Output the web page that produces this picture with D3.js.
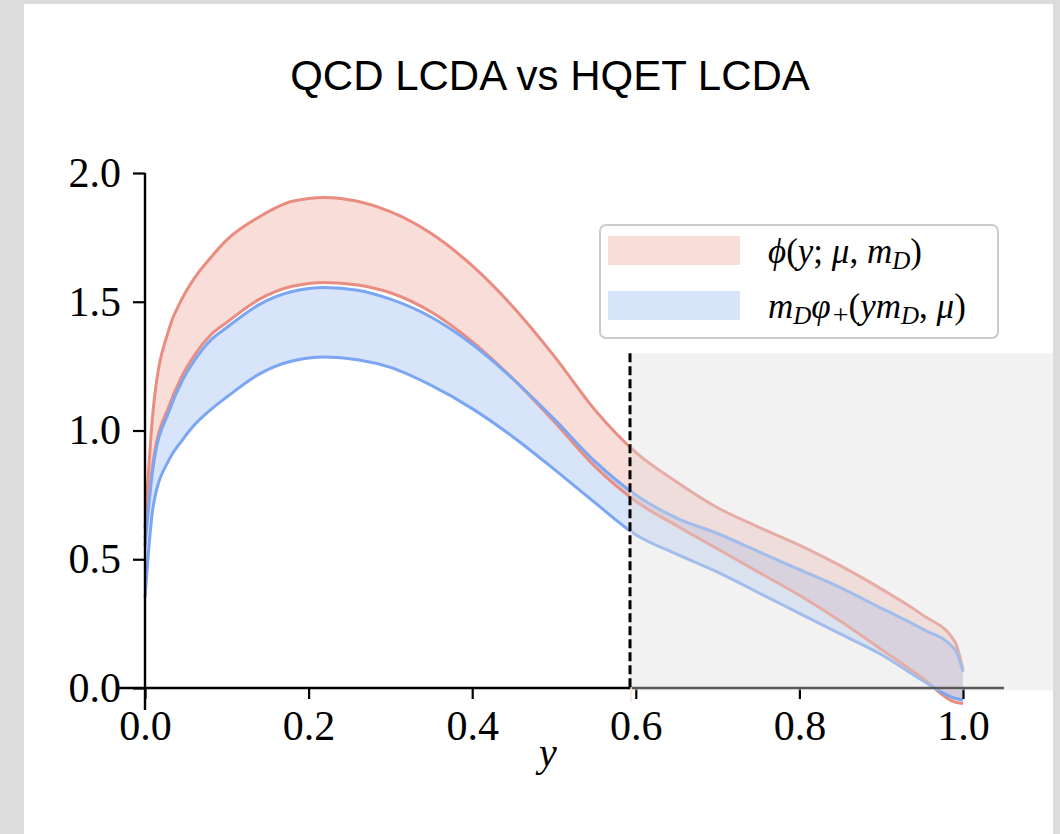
<!DOCTYPE html>
<html>
<head>
<meta charset="utf-8">
<script src="https://cdn.jsdelivr.net/npm/d3@7"></script>
<style>
  body { margin: 0; background: #dcdcdc; }
  svg { display: block; }
  .tick text { font-family: "Liberation Serif", "Times New Roman", serif; }
</style>
</head>
<body>
<div id="graphic"></div>
<script>
// values
var ys = [0, 0.01, 0.03, 0.045, 0.06, 0.08, 0.1, 0.14, 0.18, 0.22, 0.26, 0.3, 0.35, 0.4, 0.45, 0.5, 0.55, 0.6, 0.65, 0.7, 0.75, 0.8, 0.85, 0.9, 0.95, 0.99, 1.0];
var qcdUpper = [0.62, 1.08, 1.40, 1.51, 1.59, 1.67, 1.74, 1.83, 1.89, 1.905, 1.89, 1.85, 1.765, 1.64, 1.48, 1.29, 1.08, 0.915, 0.80, 0.70, 0.625, 0.555, 0.475, 0.385, 0.285, 0.18, 0.07];
var qcdLower = [0.58, 0.88, 1.10, 1.21, 1.29, 1.37, 1.42, 1.51, 1.56, 1.575, 1.565, 1.535, 1.46, 1.345, 1.2, 1.035, 0.86, 0.725, 0.63, 0.54, 0.45, 0.36, 0.26, 0.15, 0.04, -0.055, -0.06];
var hqetUpper = [0.55, 0.86, 1.08, 1.19, 1.27, 1.35, 1.40, 1.49, 1.54, 1.555, 1.545, 1.51, 1.44, 1.335, 1.2, 1.045, 0.88, 0.75, 0.66, 0.60, 0.53, 0.46, 0.39, 0.31, 0.23, 0.15, 0.063];
var hqetLower = [0.35, 0.705, 0.89, 0.96, 1.02, 1.08, 1.13, 1.22, 1.27, 1.285, 1.275, 1.245, 1.175, 1.085, 0.975, 0.85, 0.72, 0.595, 0.52, 0.45, 0.37, 0.29, 0.21, 0.13, 0.03, -0.04, -0.047];

var xTicks = [0, 0.2, 0.4, 0.6, 0.8, 1.0];
var yTicks = [0, 0.5, 1.0, 1.5, 2.0];
var xDomain = [-0.035, 1.05];
var yDomain = [-0.085, 2.0];
var cutoff = 0.593;
var shadeTop = 1.3;
var shadeBottom = -0.01;
var shadeRight = 1.11;

var width = 1060;
var height = 834;
var redLine = "#e98d80";
var redFill = "#e77767";
var blueLine = "#7aa6f3";
var blueFill = "#6495ed";

var svg = d3.select("#graphic")
  .append("svg")
  .attr("width", width)
  .attr("height", height);

svg.append("rect")
  .attr("x", 24).attr("y", 4)
  .attr("width", 1029).attr("height", 830)
  .attr("fill", "#ffffff");

var xScale = d3.scaleLinear().domain([0, 1]).range([145, 963]);
var yScale = d3.scaleLinear().domain([0, 2]).range([688, 173]);

var rows = ys.map(function(y, i) {
  return { y: y, qu: qcdUpper[i], ql: qcdLower[i], hu: hqetUpper[i], hl: hqetLower[i] };
});

function band(lo, hi) {
  return d3.area()
    .curve(d3.curveMonotoneX)
    .x(d => xScale(d.y))
    .y0(d => yScale(d[lo]))
    .y1(d => yScale(d[hi]));
}

function line(key) {
  return d3.line()
    .curve(d3.curveMonotoneX)
    .x(d => xScale(d.y))
    .y(d => yScale(d[key]));
}

function renderBands() {
  svg.append("path").datum(rows)
    .attr("d", band("ql", "qu"))
    .attr("fill", redFill).attr("fill-opacity", 0.25);
  svg.append("path").datum(rows)
    .attr("d", band("hl", "hu"))
    .attr("fill", blueFill).attr("fill-opacity", 0.25);

  [["qu", redLine], ["ql", redLine], ["hu", blueLine], ["hl", blueLine]].forEach(function(s) {
    svg.append("path").datum(rows)
      .attr("d", line(s[0]))
      .attr("fill", "none")
      .attr("stroke", s[1])
      .attr("stroke-width", 3);
  });
}

function renderAxis() {
  var xAxis = svg.append("g")
    .attr("transform", "translate(0," + yScale(0) + ")")
    .call(d3.axisBottom(xScale).tickValues(xTicks).tickFormat(d3.format(".1f")).tickSizeOuter(0).tickSize(11).tickPadding(11));
  var yAxis = svg.append("g")
    .attr("transform", "translate(" + xScale(0) + ",0)")
    .call(d3.axisLeft(yScale).tickValues(yTicks).tickFormat(d3.format(".1f")).tickSizeOuter(0).tickSize(12).tickPadding(12));

  [xAxis, yAxis].forEach(function(a) {
    a.select(".domain").remove();
    a.attr("font-size", 42).attr("font-family", "Liberation Serif");
    a.selectAll(".tick line").attr("stroke", "#000").attr("stroke-width", 2.2);
    a.selectAll(".tick text").attr("fill", "#000");
  });

  // spines through zero
  svg.append("line")
    .attr("x1", xScale(xDomain[0])).attr("x2", xScale(xDomain[1]))
    .attr("y1", yScale(0)).attr("y2", yScale(0))
    .attr("stroke", "#000").attr("stroke-width", 2.4);
  svg.append("line")
    .attr("x1", xScale(0)).attr("x2", xScale(0))
    .attr("y1", yScale(yDomain[0])).attr("y2", yScale(yDomain[1]))
    .attr("stroke", "#000").attr("stroke-width", 2.4);

  svg.append("text")
    .attr("x", 548).attr("y", 766)
    .attr("text-anchor", "middle")
    .attr("font-family", "Liberation Serif")
    .attr("font-style", "italic")
    .attr("font-size", 40)
    .text("y");
}

function renderCutoff() {
  svg.append("rect")
    .attr("x", xScale(cutoff))
    .attr("y", yScale(shadeTop))
    .attr("width", xScale(shadeRight) - xScale(cutoff))
    .attr("height", yScale(shadeBottom) - yScale(shadeTop))
    .attr("fill", "#dedede")
    .attr("fill-opacity", 0.4);

  svg.append("line")
    .attr("x1", xScale(cutoff) + 1).attr("x2", xScale(cutoff) + 1)
    .attr("y1", yScale(shadeTop)).attr("y2", yScale(yDomain[0]) - 8)
    .attr("stroke", "#fde3d6").attr("stroke-width", 1.5);

  svg.append("line")
    .attr("x1", Math.round(xScale(cutoff))).attr("x2", Math.round(xScale(cutoff)))
    .attr("y1", yScale(shadeTop)).attr("y2", yScale(shadeBottom))
    .attr("stroke", "#000")
    .attr("stroke-width", 3)
    .attr("stroke-dasharray", "9,4");
}

function renderLegend() {
  var g = svg.append("g");
  g.append("rect")
    .attr("x", 600).attr("y", 225)
    .attr("width", 398).attr("height", 113)
    .attr("rx", 6)
    .attr("fill", "#ffffff").attr("fill-opacity", 0.8)
    .attr("stroke", "#cccccc").attr("stroke-width", 2);

  g.append("rect").attr("x", 608).attr("y", 236).attr("width", 132).attr("height", 29)
    .attr("fill", redFill).attr("fill-opacity", 0.25);
  g.append("rect").attr("x", 608).attr("y", 291).attr("width", 132).attr("height", 29)
    .attr("fill", blueFill).attr("fill-opacity", 0.25);

  var t1 = g.append("text").attr("x", 768).attr("y", 263)
    .attr("font-family", "Liberation Serif").attr("font-size", 35);
  t1.append("tspan").attr("font-style", "italic").text("ϕ");
  t1.append("tspan").text("(");
  t1.append("tspan").attr("font-style", "italic").text("y");
  t1.append("tspan").text("; ");
  t1.append("tspan").attr("font-style", "italic").text("μ");
  t1.append("tspan").text(", ");
  t1.append("tspan").attr("font-style", "italic").text("m");
  t1.append("tspan").attr("font-style", "italic").attr("font-size", 25).attr("dy", 6).text("D");
  t1.append("tspan").attr("dy", -6).text(")");

  var t2 = g.append("text").attr("x", 768).attr("y", 318)
    .attr("font-family", "Liberation Serif").attr("font-size", 35);
  t2.append("tspan").attr("font-style", "italic").text("m");
  t2.append("tspan").attr("font-style", "italic").attr("font-size", 25).attr("dy", 6).text("D");
  t2.append("tspan").attr("font-style", "italic").attr("dy", -6).text("φ");
  t2.append("tspan").attr("font-size", 28).attr("dx", 2).attr("dy", 6).text("+");
  t2.append("tspan").attr("dy", -6).text("(");
  t2.append("tspan").attr("font-style", "italic").text("ym");
  t2.append("tspan").attr("font-style", "italic").attr("font-size", 25).attr("dy", 6).text("D");
  t2.append("tspan").attr("dy", -6).text(", ");
  t2.append("tspan").attr("font-style", "italic").text("μ");
  t2.append("tspan").text(")");
}

function renderTitle() {
  svg.append("text")
    .attr("x", 550).attr("y", 90)
    .attr("text-anchor", "middle")
    .attr("font-family", "Liberation Sans, Arial, sans-serif")
    .attr("font-size", 42)
    .text("QCD LCDA vs HQET LCDA");
}

renderBands();
renderAxis();
renderCutoff();
renderLegend();
renderTitle();
</script>
</body>
</html>
